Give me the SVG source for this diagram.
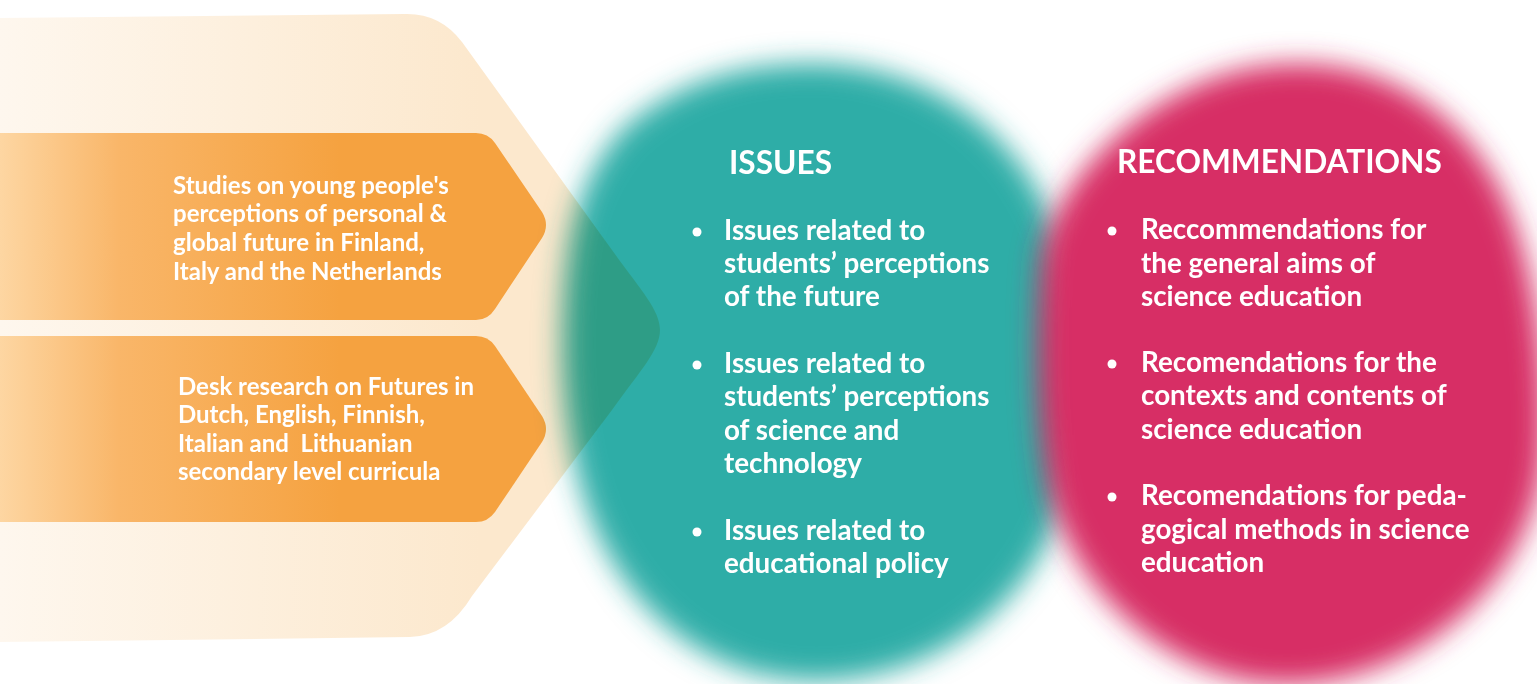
<svg xmlns="http://www.w3.org/2000/svg" width="1537" height="684" viewBox="0 0 1537 684">
  <defs>
    <linearGradient id="paleGrad" gradientUnits="userSpaceOnUse" x1="0" y1="0" x2="480" y2="0">
      <stop offset="0" stop-color="#FEF7EE"/>
      <stop offset="1" stop-color="#FCE8CD"/>
    </linearGradient>
    <linearGradient id="orangeGrad" gradientUnits="userSpaceOnUse" x1="0" y1="0" x2="340" y2="0">
      <stop offset="0" stop-color="#FDD6A2"/>
      <stop offset="0.35" stop-color="#F9B669"/>
      <stop offset="1" stop-color="#F5A240"/>
    </linearGradient>
    <filter id="feather" x="-20%" y="-20%" width="140%" height="140%">
      <feGaussianBlur stdDeviation="14"/>
    </filter>
  </defs>
  <style>
    .txt { font-family: Lato, "Open Sans", "Liberation Sans", sans-serif; font-weight: 700; fill: #FFFFFF; }
    .small { font-size: 24px; }
    .body { font-size: 27.8px; }
    .head { font-size: 31.6px; }
    .blend { mix-blend-mode: multiply; }
    .dot { fill: #FFFFFF; }
  </style>

  <g id="inputs-background">
    <path d="M0,18 L405,14 Q440,13 462,42 L612,250 C640,289 660,310 660,330 C660,350 640,371 612,410 L472,596 Q448,636 410,637 L0,642 Z" fill="url(#paleGrad)"/>
  </g>

  <g id="input-studies">
    <path d="M0,133 L476,133 Q488,133 495,143 L542,212 Q550,225 542,238 L495,309 Q488,320 476,320 L0,320 Z" fill="url(#orangeGrad)"/>
    <text class="txt small" x="173" y="194">Studies on young people's</text>
    <text class="txt small" x="173" y="222">perceptions of personal &amp;</text>
    <text class="txt small" x="173" y="251">global future in Finland,</text>
    <text class="txt small" x="173" y="280">Italy and the Netherlands</text>
  </g>

  <g id="input-desk">
    <path d="M0,336 L476,336 Q488,336 495,346 L542,416 Q550,429 542,442 L495,512 Q488,522 476,522 L0,522 Z" fill="url(#orangeGrad)"/>
    <text class="txt small" x="178" y="395">Desk research on Futures in</text>
    <text class="txt small" x="178" y="423">Dutch, English, Finnish,</text>
    <text class="txt small" x="178" y="452" xml:space="preserve">Italian and  Lithuanian</text>
    <text class="txt small" x="178" y="480">secondary level curricula</text>
  </g>

  <g id="issues">
    <path class="blend" filter="url(#feather)" fill="#2EADA7" d="M800,64 C905,60 1002,112 1047,210 C1082,292 1084,420 1062,502 C1037,592 950,674 830,680 C720,686 642,622 602,542 C572,482 560,400 563,320 C566,240 576,182 622,130 C672,86 730,66 800,64 Z"/>
    <text class="txt head" x="729" y="174">ISSUES</text>
    <circle class="dot" cx="697" cy="232" r="4.5"/>
    <text class="txt body" x="724" y="240">Issues related to</text>
    <text class="txt body" x="724" y="273">students’ perceptions</text>
    <text class="txt body" x="724" y="306">of the future</text>
    <circle class="dot" cx="697" cy="365" r="4.5"/>
    <text class="txt body" x="724" y="373">Issues related to</text>
    <text class="txt body" x="724" y="406">students’ perceptions</text>
    <text class="txt body" x="724" y="440">of science and</text>
    <text class="txt body" x="724" y="473">technology</text>
    <circle class="dot" cx="697" cy="532" r="4.5"/>
    <text class="txt body" x="724" y="540">Issues related to</text>
    <text class="txt body" x="724" y="573">educational policy</text>
  </g>

  <g id="recommendations">
    <path filter="url(#feather)" fill="#D72F65" d="M1290,64 C1400,60 1482,130 1514,222 C1539,292 1548,380 1543,460 C1532,580 1420,682 1290,684 C1180,686 1082,602 1052,502 C1036,442 1036,330 1041,262 C1049,182 1160,66 1290,64 Z"/>
    <text class="txt head" x="1117" y="173">RECOMMENDATIONS</text>
    <circle class="dot" cx="1112" cy="231" r="4.5"/>
    <text class="txt body" x="1141" y="239">Reccommendations for</text>
    <text class="txt body" x="1141" y="273">the general aims of</text>
    <text class="txt body" x="1141" y="306">science education</text>
    <circle class="dot" cx="1112" cy="364" r="4.5"/>
    <text class="txt body" x="1141" y="372">Recomendations for the</text>
    <text class="txt body" x="1141" y="405">contexts and contents of</text>
    <text class="txt body" x="1141" y="439">science education</text>
    <circle class="dot" cx="1112" cy="497" r="4.5"/>
    <text class="txt body" x="1141" y="505">Recomendations for peda-</text>
    <text class="txt body" x="1141" y="539">gogical methods in science</text>
    <text class="txt body" x="1141" y="572">education</text>
  </g>

  <g id="connectors"/>
</svg>
